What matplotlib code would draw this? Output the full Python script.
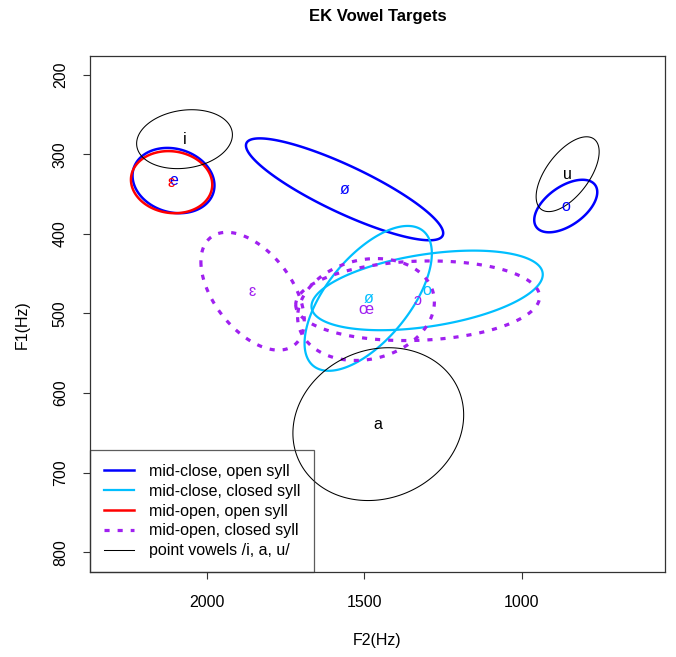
import matplotlib

matplotlib.use("Agg")

import matplotlib.pyplot as plt
import numpy as np
from matplotlib.lines import Line2D
from matplotlib.patches import Polygon

plt.rcParams["font.family"] = ["Liberation Sans", "DejaVu Sans"]

# vowel targets: mean F2/F1, spread (F2, F1) and F2-F1 correlation per ellipse
labels = ["e", "ø", "o", "ø", "o", "ɛ", "ɛ", "œ", "ɔ", "i", "a", "u"]
groups = [0, 0, 0, 1, 1, 2, 3, 3, 3, 4, 4, 4]
f2_mean = [2105, 1562, 860, 1487, 1300, 2111, 1854, 1494, 1330, 2070, 1455, 854]
f1_mean = [333, 344, 365, 481, 471, 335, 472, 495, 484, 281, 639, 325]
f2_sd = [130, 313, 100, 202, 367, 129, 164, 217, 387, 152, 271, 100]
f1_sd = [41, 64, 33, 91, 50, 39, 74, 64, 50, 37, 96, 47]
rho = [-0.15, -0.86, 0.53, 0.62, 0.40, -0.08, -0.50, 0.15, 0.10, 0.15, 0.12, 0.60]

group_names = [
    "mid-close, open syll",
    "mid-close, closed syll",
    "mid-open, open syll",
    "mid-open, closed syll",
    "point vowels /i, a, u/",
]
group_colors = ["#0000FF", "#00BFFF", "#FF0000", "#A020F0", "#000000"]
group_widths = [1.8, 1.6, 1.8, 2.3, 0.75]
group_styles = ["-", "-", "-", (0, (1.6, 2.5)), "-"]

x_ticks = [2000, 1500, 1000]
y_ticks = [200, 300, 400, 500, 600, 700, 800]

W, H = 676, 657
FS = 11.5


def ellipse_points(cx, cy, sx, sy, r, n=240):
    t = np.linspace(0, 2 * np.pi, n, endpoint=False)
    x = cx + sx * np.cos(t)
    y = cy + sy * (r * np.cos(t) + np.sqrt(1 - r * r) * np.sin(t))
    return np.column_stack([x, y])


fig = plt.figure(figsize=(W / 100, H / 100), dpi=100)
ax = fig.add_axes([90 / W, 1 - 571.7 / H, 575 / W, 516.1 / H])

for k in range(len(labels)):
    g = groups[k]
    pts = ellipse_points(f2_mean[k], f1_mean[k], f2_sd[k], f1_sd[k], rho[k])
    ax.add_patch(Polygon(pts, closed=True, fill=False, edgecolor=group_colors[g],
                         lw=group_widths[g], linestyle=group_styles[g],
                         capstyle="butt", joinstyle="round"))
    ax.text(f2_mean[k], f1_mean[k], labels[k], color=group_colors[g],
            fontsize=FS, ha="center", va="center")

ax.set_xlim(2370, 545)
ax.set_ylim(824.4, 176)
ax.set_xticks(x_ticks)
ax.set_yticks(y_ticks)
ax.tick_params(axis="both", length=5, width=0.8, labelsize=FS, colors="#333333",
               labelcolor="black")
ax.tick_params(axis="x", pad=12)
ax.tick_params(axis="y", pad=11)
for lab in ax.get_yticklabels():
    lab.set_rotation(90)
    lab.set_va("center")
for s in ax.spines.values():
    s.set_linewidth(0.9)
    s.set_color("#333333")

handles = [
    Line2D([0], [0], color=group_colors[g], lw=group_widths[g],
           linestyle=group_styles[g], dash_capstyle="butt")
    for g in range(len(group_names))
]
leg = ax.legend(handles, group_names, loc="lower left", bbox_to_anchor=(0, 0),
                borderaxespad=0, fontsize=FS, fancybox=False, frameon=True,
                handlelength=1.9, handletextpad=0.95, borderpad=0.85,
                labelspacing=0.3)
leg.get_frame().set_facecolor("none")
leg.get_frame().set_edgecolor("#333333")
leg.get_frame().set_linewidth(0.9)

fig.text(377.5 / W, 1 - 17 / H, "EK Vowel Targets", fontsize=12,
         fontweight="bold", ha="center", va="center")
fig.text(377.5 / W, 1 - 640 / H, "F2(Hz)", fontsize=FS, ha="center", va="center")
fig.text(22 / W, 1 - 325 / H, "F1(Hz)", fontsize=FS, ha="center", va="center",
         rotation=90)

fig.savefig("out.png", dpi=100)
